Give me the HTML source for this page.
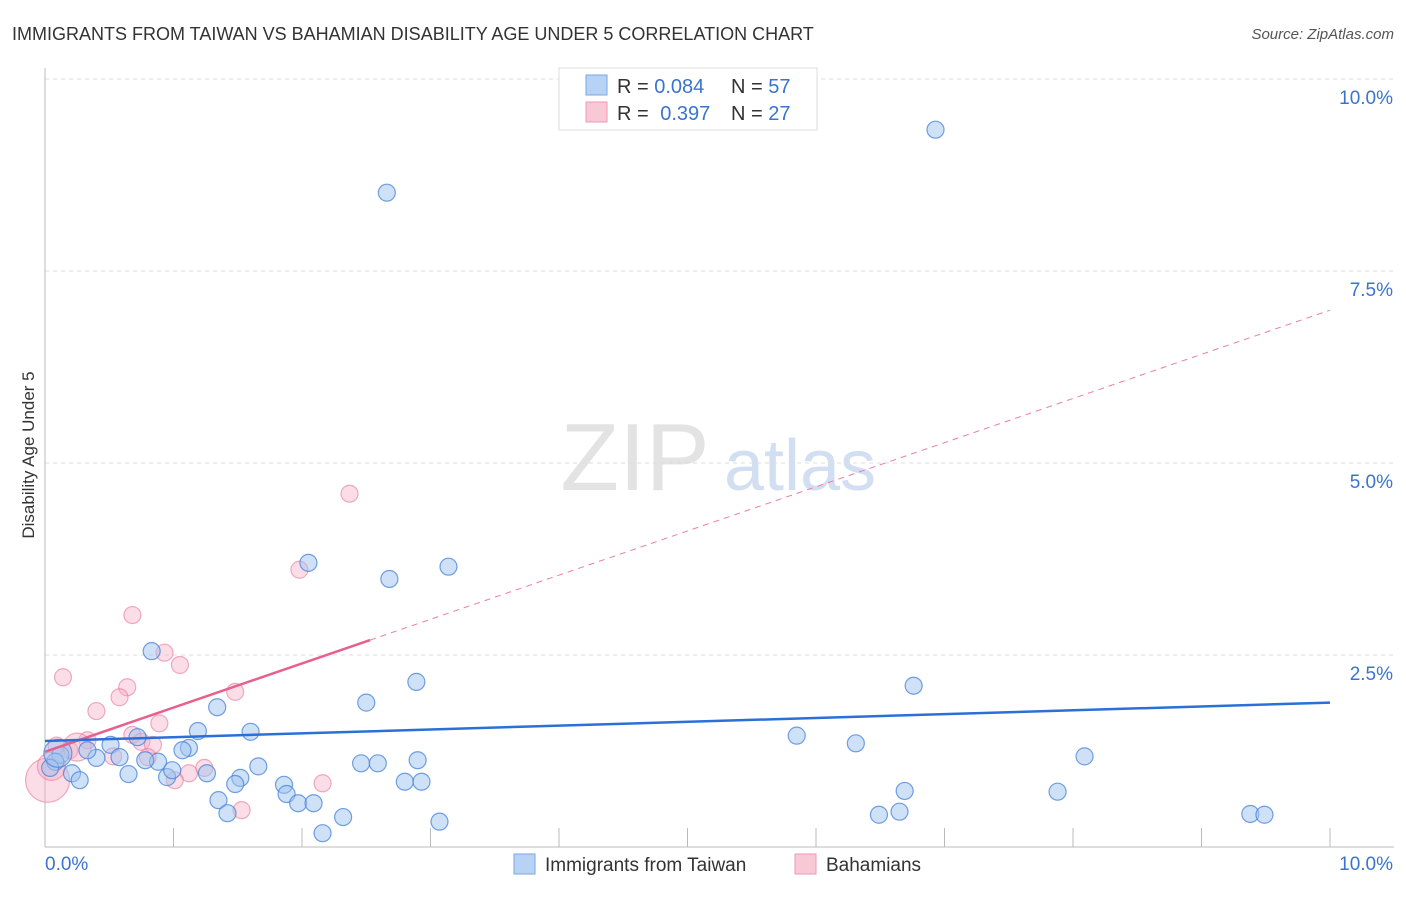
<!DOCTYPE html>
<html><head><meta charset="utf-8"><style>
body{margin:0;background:#fff;font-family:"Liberation Sans",sans-serif;}
svg text{font-family:"Liberation Sans",sans-serif;}
</style></head><body>
<svg width="1406" height="892" viewBox="0 0 1406 892">
<text x="12" y="40" font-size="18" fill="#333">IMMIGRANTS FROM TAIWAN VS BAHAMIAN DISABILITY AGE UNDER 5 CORRELATION CHART</text>
<text x="1394" y="39" font-size="15" fill="#555" font-style="italic" text-anchor="end">Source: ZipAtlas.com</text>
<text x="34" y="455" font-size="17" fill="#333" text-anchor="middle" transform="rotate(-90 34 455)">Disability Age Under 5</text>
<g>
<text x="635" y="490" font-size="96" fill="#ddd" text-anchor="middle" font-family="Liberation Serif" opacity="0.8">ZIP</text>
<text x="800" y="490" font-size="72" fill="#c8d8f0" text-anchor="middle" opacity="0.8">atlas</text>
</g>
<g id="grid"></g>
<g id="axes"></g>
<g id="points"></g>
<g id="trends"></g>
<g>
<rect x="559" y="68" width="258" height="62" fill="#fff" stroke="#ddd"/>
<rect x="586" y="75" width="21" height="20" fill="#b8d2f5" stroke="#7aa6e0"/>
<rect x="586" y="102" width="21" height="20" fill="#f9c8d6" stroke="#ee9ab5"/>
<text x="617" y="93" font-size="20" fill="#333">R = <tspan fill="#3a74d0">0.084</tspan></text>
<text x="731" y="93" font-size="20" fill="#333">N = <tspan fill="#3a74d0">57</tspan></text>
<text x="617" y="120" font-size="20" fill="#333">R = <tspan fill="#3a74d0" dx="6">0.397</tspan></text>
<text x="731" y="120" font-size="20" fill="#333">N = <tspan fill="#3a74d0">27</tspan></text>
</g>
<g>
<rect x="514" y="854" width="21" height="20" fill="#b8d2f5" stroke="#7aa6e0"/>
<text x="545" y="871" font-size="19" fill="#333">Immigrants from Taiwan</text>
<rect x="795" y="854" width="21" height="20" fill="#f9c8d6" stroke="#ee9ab5"/>
<text x="826" y="871" font-size="19" fill="#333">Bahamians</text>
</g>
</svg>
<script>
const yTicks=[2.5,5.0,7.5,10.0];
const yTickLabels=["2.5%","5.0%","7.5%","10.0%"];
const xTickLabels=["0.0%","10.0%"];
const taiwanX=[6.93,2.66,2.05,2.68,3.14,0.83,2.89,6.76,2.50,1.34,1.19,1.60,5.85,6.31,8.09,0.72,0.51,1.12,1.07,0.88,0.78,0.58,0.40,0.33,0.12,0.08,0.04,0.21,0.27,0.65,0.95,0.99,1.26,1.66,1.52,1.48,1.86,1.88,2.46,2.59,2.90,2.80,2.93,1.35,1.42,1.97,2.09,2.32,2.16,3.07,6.69,6.49,6.65,7.88,9.38,9.49,0.10];
const taiwanY=[9.34,8.52,3.70,3.49,3.65,2.55,2.15,2.10,1.88,1.82,1.51,1.50,1.45,1.35,1.18,1.43,1.33,1.29,1.26,1.11,1.13,1.17,1.16,1.26,1.20,1.11,1.03,0.96,0.87,0.95,0.91,1.00,0.96,1.05,0.90,0.82,0.81,0.69,1.09,1.09,1.13,0.85,0.85,0.61,0.44,0.57,0.57,0.39,0.18,0.33,0.73,0.42,0.46,0.72,0.43,0.42,1.22];
const bahX=[2.37,1.98,0.68,0.93,1.05,0.14,0.64,1.48,0.58,0.40,0.89,0.68,0.75,0.33,0.09,0.19,0.84,0.53,0.80,1.24,1.12,1.01,2.16,1.53,0.02,0.05,0.25];
const bahY=[4.60,3.61,3.02,2.53,2.37,2.21,2.08,2.02,1.95,1.77,1.61,1.46,1.37,1.39,1.32,1.26,1.33,1.18,1.17,1.03,0.96,0.87,0.83,0.48,0.87,1.05,1.30];
const taiwanTrend=[1.38,1.88];
const bahTrend=[1.24,6.99];
const bahSolidEnd=2.53;
const NS="http://www.w3.org/2000/svg";
const X0=45,X1=1330,Y0=847,Y1=79;
const sx=v=>X0+(X1-X0)*v/10;
const sy=v=>Y0-(Y0-Y1)*v/10;
function mk(tag,attrs,parent){const e=document.createElementNS(NS,tag);for(const k in attrs)e.setAttribute(k,attrs[k]);parent.appendChild(e);return e;}
const grid=document.getElementById('grid'),axes=document.getElementById('axes'),pts=document.getElementById('points'),tr=document.getElementById('trends');
yTicks.forEach((t,i)=>{
 const l=mk('line',{x1:X0,x2:1394,y1:sy(t),y2:sy(t),stroke:'#ddd','stroke-dasharray':'4,4'},grid);
 
 
 const tx=mk('text',{x:1393,y:sy(t)+25,'font-size':19,fill:'#3a74d0','text-anchor':'end'},grid);
 tx.textContent=yTickLabels[i];
 
 
});
const ax=mk('line',{x1:X0,x2:X0,y1:68,y2:Y0,stroke:'#bbb'},axes);


const bx=mk('line',{x1:X0,x2:1394,y1:Y0,y2:Y0,stroke:'#bbb'},axes);


for(let i=1;i<=10;i++){
 const t=mk('line',{x1:sx(i),x2:sx(i),y1:828,y2:Y0,stroke:'#bbb'},axes);
 
 
}
const xl0=mk('text',{x:45,y:870,'font-size':19,fill:'#3a74d0'},axes);
xl0.textContent=xTickLabels[0];


const xl1=mk('text',{x:1393,y:870,'font-size':19,fill:'#3a74d0','text-anchor':'end'},axes);
xl1.textContent=xTickLabels[1];


bahX.forEach((x,i)=>{
 const r=(i>=24)?(i==24?22:14):8.5;
 const c=mk('circle',{cx:sx(x),cy:sy(bahY[i]),r:r,fill:'rgba(244,170,195,0.4)',stroke:'rgba(232,120,155,0.6)','stroke-width':1.2},pts);
 
 
});
taiwanX.forEach((x,i)=>{
 const r=(i==56)?14:8.5;
 const c=mk('circle',{cx:sx(x),cy:sy(taiwanY[i]),r:r,fill:'rgba(160,195,240,0.5)',stroke:'rgba(70,130,215,0.75)','stroke-width':1.2},pts);
 
 
});
const bt=v=>bahTrend[0]+(bahTrend[1]-bahTrend[0])*v/10;
const pd=mk('line',{x1:sx(bahSolidEnd),y1:sy(bt(bahSolidEnd)),x2:sx(10),y2:sy(bahTrend[1]),stroke:'#ec7fa0','stroke-width':1,'stroke-dasharray':'6,5'},tr);


const ps=mk('line',{x1:sx(0),y1:sy(bahTrend[0]),x2:sx(bahSolidEnd),y2:sy(bt(bahSolidEnd)),stroke:'#e8608c','stroke-width':2.5},tr);


const tl=mk('line',{x1:sx(0),y1:sy(taiwanTrend[0]),x2:sx(10),y2:sy(taiwanTrend[1]),stroke:'#2a70d8','stroke-width':2.5},tr);


</script>
</body></html>
